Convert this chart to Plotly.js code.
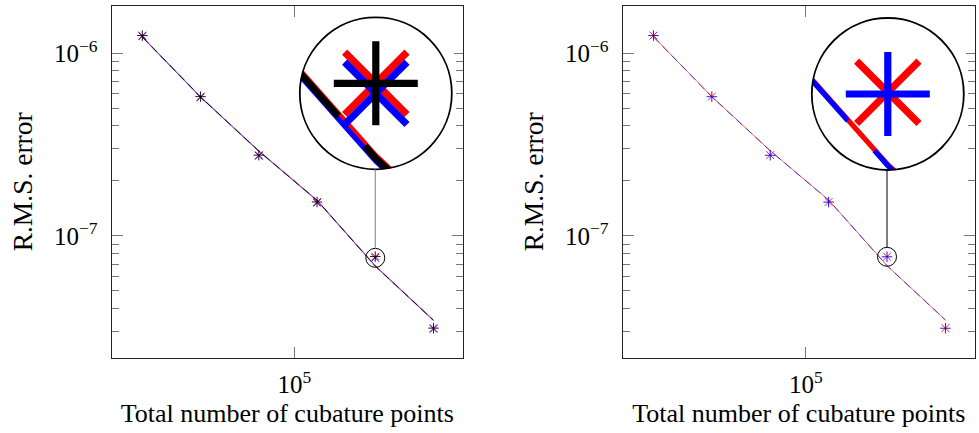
<!DOCTYPE html>
<html><head><meta charset="utf-8">
<script src="https://cdn.plot.ly/plotly-3.0.1.min.js"></script>
<style>html,body{margin:0;padding:0;background:#fff}#chart{width:979px;height:433px}</style>
</head><body><div id="chart"></div>
<script>
// ---------------- data ----------------
const cubaturePoints = [16384, 32768, 65536, 131072, 262144, 524288];

// left panel
const leftRedLine    = [1.233e-6, 5.79e-7, 2.93e-7, 1.574e-7, 6.88e-8, 3.47e-8];
const leftBlueLine   = [1.222e-6, 5.74e-7, 2.905e-7, 1.56e-7, 6.82e-8, 3.44e-8];
const leftBlackLine  = [1.228e-6, 5.765e-7, 2.918e-7, 1.567e-7, 6.85e-8, 3.455e-8];
const leftRedMarks   = [1.25e-6, 5.79e-7, 2.77e-7, 1.535e-7, 7.71e-8, 3.13e-8];
const leftBlueMarks  = [1.24e-6, 5.74e-7, 2.745e-7, 1.52e-7, 7.59e-8, 3.10e-8];
const leftBlackMarks = [1.25e-6, 5.79e-7, 2.77e-7, 1.535e-7, 7.71e-8, 3.13e-8];

// right panel
const rightRedLine   = [1.233e-6, 5.79e-7, 2.93e-7, 1.574e-7, 6.88e-8, 3.47e-8];
const rightBlueLine  = [1.231e-6, 5.78e-7, 2.925e-7, 1.571e-7, 6.87e-8, 3.465e-8];
const rightRedMarks  = [1.25e-6, 5.79e-7, 2.77e-7, 1.535e-7, 7.71e-8, 3.13e-8];
const rightBlueMarks = [1.25e-6, 5.785e-7, 2.765e-7, 1.533e-7, 7.69e-8, 3.125e-8];

// ticks
const xTickVals = [1e5];
const xTickText = ['10<sup>5</sup>'];
const yTickVals = [1e-7, 1e-6];
const yTickText = ['10<sup>\u22127</sup>', '10<sup>\u22126</sup>'];
const yMinorVals = [3e-8, 4e-8, 5e-8, 6e-8, 7e-8, 8e-8, 9e-8, 2e-7, 3e-7, 4e-7, 5e-7, 6e-7, 7e-7, 8e-7, 9e-7];
const xTitle = 'Total number of cubature points';
const yTitle = 'R.M.S. error';
const spyIndex = 4;

// ---------------- layout geometry ----------------
const W = 979, H = 433;
const xRange = [4.056, 5.872], yRange = [-7.668, -5.7395];
const R = 76, MAG = 8;
const panels = [
  {x0: 111.7, x1: 463, y0: 5.7, y1: 358, cx: 375.8, cy: 93.3, conn: '#808080'},
  {x0: 622.7, x1: 975, y0: 5.7, y1: 358, cx: 887.8, cy: 94.0, conn: '#000000'}
];
const FONT = 'Liberation Serif, Times New Roman, serif';

function toPx(p, xv, yv) {
  const px = p.x0 + (Math.log10(xv) - xRange[0]) / (xRange[1] - xRange[0]) * (p.x1 - p.x0);
  const py = p.y1 - (Math.log10(yv) - yRange[0]) / (yRange[1] - yRange[0]) * (p.y1 - p.y0);
  return [px, py];
}
const fx = px => px / W, fy = py => 1 - py / H;

function mainAxes(p, anchor) {
  const common = {type: 'log', showline: true, mirror: 'ticks', linecolor: '#222', linewidth: 1.2,
    ticks: 'inside', ticklen: 11, tickwidth: 1, tickcolor: '#777', showgrid: false, zeroline: false,
    automargin: false, tickfont: {family: FONT, size: 25, color: '#000'}};
  const xa = Object.assign({}, common, {
    domain: [fx(p.x0), fx(p.x1)], range: xRange, anchor: anchor[1],
    tickmode: 'array', tickvals: xTickVals, ticktext: xTickText, ticklabelstandoff: 4,
    title: {text: xTitle, font: {family: FONT, size: 26, color: '#000'}, standoff: 6}
  });
  const ya = Object.assign({}, common, {
    domain: [fy(p.y1), fy(p.y0)], range: yRange, anchor: anchor[0],
    tickmode: 'array', tickvals: yTickVals, ticktext: yTickText, ticklabelstandoff: 8,
    minor: {tickmode: 'array', tickvals: yMinorVals, ticks: 'inside', ticklen: 7, tickwidth: 1, tickcolor: '#777', showgrid: false},
    title: {text: yTitle, font: {family: FONT, size: 27.5, color: '#000'}, standoff: 13}
  });
  return [xa, ya];
}

function insetAxes(p, yv, anchor) {
  const xv = cubaturePoints[spyIndex];
  const dx = (R / MAG) / ((p.x1 - p.x0) / (xRange[1] - xRange[0]));
  const dy = (R / MAG) / ((p.y1 - p.y0) / (yRange[1] - yRange[0]));
  const lx = Math.log10(xv), ly = Math.log10(yv);
  const base = {type: 'log', showline: false, showgrid: false, zeroline: false, showticklabels: false, ticks: '', automargin: false};
  const xa = Object.assign({}, base, {domain: [fx(p.cx - R), fx(p.cx + R)], range: [lx - dx, lx + dx], anchor: anchor[1]});
  const ya = Object.assign({}, base, {domain: [fy(p.cy + R), fy(p.cy - R)], range: [ly - dy, ly + dy], anchor: anchor[0]});
  return [xa, ya];
}

const traces = [];
function addLine(xa, ya, ys, color, width, dash) {
  traces.push({x: cubaturePoints, y: ys, xaxis: xa, yaxis: ya, mode: 'lines', type: 'scatter',
    line: {color: color, width: width, dash: dash || 'solid'}, showlegend: false, hoverinfo: 'skip'});
}
function addMarks(xa, ya, ys, color, symbol, size, lw) {
  traces.push({x: cubaturePoints, y: ys, xaxis: xa, yaxis: ya, mode: 'markers', type: 'scatter',
    marker: {symbol: symbol, size: size, color: color, line: {color: color, width: lw}}, showlegend: false, hoverinfo: 'skip'});
}

// main plots (scale 1) and insets (scale MAG)
[['x', 'y', 1], ['x3', 'y3', MAG]].forEach(([xa, ya, s]) => {
  addLine(xa, ya, leftRedLine, '#ff0000', 0.65 * s);
  addLine(xa, ya, leftBlueLine, '#0000ff', 0.65 * s);
  addLine(xa, ya, leftBlackLine, '#000000', 0.85 * s, (8 * s) + 'px,' + (5 * s) + 'px');
  addMarks(xa, ya, leftRedMarks, '#ff0000', 'x-thin', 7.8 * s, 0.9 * s);
  addMarks(xa, ya, leftBlueMarks, '#0000ff', 'x-thin', 7.8 * s, 0.9 * s);
  addMarks(xa, ya, leftBlackMarks, '#000000', 'cross-thin', 7.5 * s, 0.9 * s);
});
[['x2', 'y2', 1], ['x4', 'y4', MAG]].forEach(([xa, ya, s]) => {
  addLine(xa, ya, rightRedLine, '#ff0000', 0.65 * s);
  addLine(xa, ya, rightBlueLine, '#0000ff', 0.65 * s, (8 * s) + 'px,' + (5 * s) + 'px');
  addMarks(xa, ya, rightRedMarks, '#ff0000', 'x-thin', 7.8 * s, 0.9 * s);
  addMarks(xa, ya, rightBlueMarks, '#0000ff', 'cross-thin', 7.5 * s, 0.9 * s);
});
// small spy circles, on the spied data point
traces.push({x: [cubaturePoints[spyIndex]], y: [leftBlueMarks[spyIndex]], xaxis: 'x', yaxis: 'y', mode: 'markers', type: 'scatter',
  marker: {symbol: 'circle-open', size: 2 * R / MAG, color: '#000', line: {color: '#000', width: 1}}, showlegend: false, hoverinfo: 'skip', cliponaxis: false});
traces.push({x: [cubaturePoints[spyIndex]], y: [rightBlueMarks[spyIndex]], xaxis: 'x2', yaxis: 'y2', mode: 'markers', type: 'scatter',
  marker: {symbol: 'circle-open', size: 2 * R / MAG, color: '#000', line: {color: '#000', width: 1}}, showlegend: false, hoverinfo: 'skip', cliponaxis: false});

const [xa1, ya1] = mainAxes(panels[0], ['x', 'y']);
const [xa2, ya2] = mainAxes(panels[1], ['x2', 'y2']);
const [xa3, ya3] = insetAxes(panels[0], leftBlueMarks[spyIndex], ['x3', 'y3']);
const [xa4, ya4] = insetAxes(panels[1], rightBlueMarks[spyIndex], ['x4', 'y4']);

// decorations: mask outside the magnifier circle, circle border, connector
const shapes = [];
function circlePath(cx, cy, r, n) {
  let d = '';
  for (let i = 0; i <= n; i++) {
    const a = 2 * Math.PI * i / n;
    d += (i === 0 ? 'M' : 'L') + fx(cx + r * Math.cos(a)).toFixed(6) + ',' + fy(cy + r * Math.sin(a)).toFixed(6);
  }
  return d + 'Z';
}
[[panels[0], leftBlueMarks], [panels[1], rightBlueMarks]].forEach(([p, marks]) => {
  const m = R + 2;
  const sq = 'M' + fx(p.cx - m) + ',' + fy(p.cy - m) + 'L' + fx(p.cx + m) + ',' + fy(p.cy - m) +
             'L' + fx(p.cx + m) + ',' + fy(p.cy + m) + 'L' + fx(p.cx - m) + ',' + fy(p.cy + m) + 'Z';
  shapes.push({type: 'path', xref: 'paper', yref: 'paper', path: sq + circlePath(p.cx, p.cy, R, 180),
    fillcolor: '#ffffff', fillrule: 'evenodd', line: {width: 0}, layer: 'above'});
  shapes.push({type: 'circle', xref: 'paper', yref: 'paper', x0: fx(p.cx - R), x1: fx(p.cx + R), y0: fy(p.cy + R), y1: fy(p.cy - R),
    line: {color: '#000', width: 1.8}, layer: 'above'});
  const [sx, sy] = toPx(p, cubaturePoints[spyIndex], marks[spyIndex]);
  shapes.push({type: 'line', xref: 'paper', yref: 'paper', x0: fx(sx), y0: fy(sy - R / MAG), x1: fx(sx), y1: fy(p.cy + R),
    line: {color: p.conn, width: 1}, layer: 'above'});
});

const layout = {
  width: W, height: H, margin: {l: 0, r: 0, t: 0, b: 0},
  paper_bgcolor: '#fff', plot_bgcolor: 'rgba(0,0,0,0)', showlegend: false,
  font: {family: FONT, color: '#000'},
  xaxis: xa1, yaxis: ya1, xaxis2: xa2, yaxis2: ya2, xaxis3: xa3, yaxis3: ya3, xaxis4: xa4, yaxis4: ya4,
  shapes: shapes
};
Plotly.newPlot('chart', traces, layout, {displayModeBar: false, staticPlot: true});
</script>
</body></html>
